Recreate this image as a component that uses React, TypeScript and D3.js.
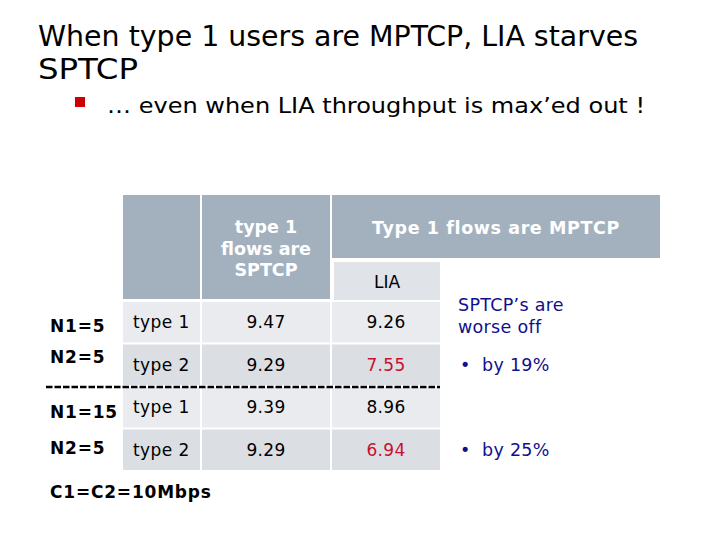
import React from "react";
import * as d3 from "d3";

const titleLines = ["When type 1 users are MPTCP, LIA starves", "SPTCP"];
const subBullet = "\u2026 even when LIA throughput is max\u2019ed out !";
const headerSptcp = ["type 1", "flows are", "SPTCP"];
const headerMptcp = "Type 1 flows are MPTCP";
const headerLia = "LIA";
const groupLabels = ["N1=5", "N2=5", "N1=15", "N2=5"];
const flowTypes = ["type 1", "type 2", "type 1", "type 2"];
const sptcpValues = [9.47, 9.29, 9.39, 9.29];
const liaValues = [9.26, 7.55, 8.96, 6.94];
const worseRows = [false, true, false, true];
const noteLines = ["SPTCP\u2019s are", "worse off"];
const reductions = ["by 19%", "by 25%"];
const reductionRows = [1, 3];
const footnote = "C1=C2=10Mbps";

const W = 720;
const H = 540;
const HEADER = "#a3b1bf";
const ROW_LIGHT = "#e9ebee";
const ROW_DARK = "#dbdee3";
const LIA_BG = "#e0e3e7";
const RED = "#c8102e";
const BLUE = "#10108c";
const TAB_FONT = "'DejaVu Sans', Verdana, sans-serif";
const TITLE_FONT = "'DejaVu Sans Condensed', 'DejaVu Sans', Tahoma, sans-serif";

export default function App() {
  const y = d3.scaleLinear().domain([0, 4]).range([302, 472]);
  const rowH = 40.5;
  const cols = [
    { x0: 123, x1: 200 },
    { x0: 202, x1: 330 },
    { x0: 332, x1: 440 },
  ];
  const fmt = d3.format(".2f");

  return (
    <svg width={W} height={H} style={{ position: "absolute", left: 0, top: 0, background: "#fff" }}>
      <rect x={0} y={0} width={W} height={H} fill="#fff" />
      {/* title */}
      <g fontFamily={TITLE_FONT} fill="#000" fontSize={29} style={{ fontStretch: "condensed" }}>
        <text x={38} y={46} textLength={600} lengthAdjust="spacingAndGlyphs">{titleLines[0]}</text>
        <text x={38} y={79} textLength={100} lengthAdjust="spacingAndGlyphs">{titleLines[1]}</text>
      </g>
      <rect x={75} y={97} width={10} height={10} fill="#cc0000" />
      <text x={107} y={113} fontFamily={TITLE_FONT} fontSize={22} fill="#000" textLength={538} lengthAdjust="spacingAndGlyphs" style={{ fontStretch: "condensed" }}>
        {subBullet}
      </text>

      {/* header */}
      <rect x={cols[0].x0} y={195} width={cols[0].x1 - cols[0].x0} height={104} fill={HEADER} />
      <rect x={cols[1].x0} y={195} width={cols[1].x1 - cols[1].x0} height={104} fill={HEADER} />
      <rect x={cols[2].x0} y={195} width={660 - cols[2].x0} height={63} fill={HEADER} />
      <rect x={334} y={262} width={cols[2].x1 - 334} height={38} fill={LIA_BG} />
      <g fontFamily={TAB_FONT} fontWeight="bold" fontSize={17.5} fill="#fff" textAnchor="middle">
        {headerSptcp.map((t, i) => (
          <text key={i} x={(cols[1].x0 + cols[1].x1) / 2} y={233 + i * 21.5}>{t}</text>
        ))}
        <text x={(cols[2].x0 + 660) / 2} y={234} letterSpacing={0.6}>{headerMptcp}</text>
      </g>
      <text x={387} y={288} fontFamily={TAB_FONT} fontSize={17} fill="#000" textAnchor="middle">{headerLia}</text>

      {/* rows */}
      {flowTypes.map((ft, i) => {
        const top = y(i);
        const fill = i % 2 === 0 ? ROW_LIGHT : ROW_DARK;
        const base = top + rowH / 2 + 6;
        return (
          <g key={i} fontFamily={TAB_FONT} fontSize={17}>
            {cols.map((c, j) => (
              <rect key={j} x={c.x0} y={top} width={c.x1 - c.x0} height={rowH} fill={fill} />
            ))}
            <text x={133} y={base} fill="#000" letterSpacing={0.4}>{ft}</text>
            <text x={(cols[1].x0 + cols[1].x1) / 2} y={base} fill="#000" textAnchor="middle" letterSpacing={0.3}>{fmt(sptcpValues[i])}</text>
            <text x={(cols[2].x0 + cols[2].x1) / 2} y={base} fill={worseRows[i] ? RED : "#000"} textAnchor="middle" letterSpacing={0.3}>{fmt(liaValues[i])}</text>
          </g>
        );
      })}

      {/* group labels */}
      <g fontFamily={TAB_FONT} fontWeight="bold" fontSize={17} fill="#000" letterSpacing={0.8}>
        {groupLabels.map((g, i) => {
          const off = [4, -8, 5, -2][i];
          return (
            <text key={i} x={50} y={y(i) + rowH / 2 + 6 + off}>{g}</text>
          );
        })}
        <text x={50} y={498}>{footnote}</text>
      </g>

      {/* dashed separator */}
      <line x1={46} x2={440} y1={387} y2={387} stroke="#000" strokeWidth={2.5} strokeDasharray="6.5 2" />

      {/* annotations */}
      <g fontFamily={TAB_FONT} fontSize={17.5} fill={BLUE} letterSpacing={0.3}>
        {noteLines.map((t, i) => (
          <text key={i} x={458} y={311 + i * 22}>{t}</text>
        ))}
        {reductions.map((t, i) => {
          const base = y(reductionRows[i]) + rowH / 2 + 6;
          return (
            <g key={i}>
              <text x={460} y={base}>{"\u2022"}</text>
              <text x={482} y={base}>{t}</text>
            </g>
          );
        })}
      </g>
    </svg>
  );
}
